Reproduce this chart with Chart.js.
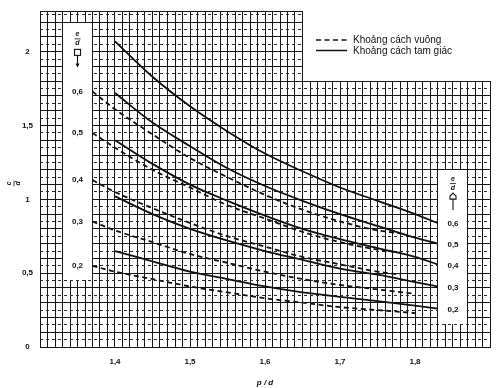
<!DOCTYPE html>
<html><head><meta charset="utf-8">
<script src="https://cdn.jsdelivr.net/npm/chart.js@4.4.1/dist/chart.umd.min.js"></script>
<style>html,body{margin:0;padding:0;background:#fff}#wrap{width:504px;height:388px}</style>
</head><body><div id="wrap"><canvas id="c" width="504" height="388"></canvas></div>
<script>
// ---- data ----
const triX  = [1.40,1.45,1.50,1.55,1.60,1.65,1.70,1.75,1.80,1.83];
const tri06 = [2.07,1.83,1.63,1.46,1.31,1.19,1.08,0.99,0.90,0.84];
const tri05 = [1.72,1.52,1.36,1.21,1.09,0.99,0.90,0.82,0.74,0.70];
const tri04 = [1.40,1.24,1.10,0.99,0.89,0.80,0.73,0.67,0.61,0.56];
const tri03 = [1.02,0.90,0.80,0.72,0.65,0.59,0.53,0.49,0.44,0.41];
const tri02 = [0.65,0.58,0.51,0.46,0.41,0.37,0.34,0.31,0.28,0.26];
const sqX     = [1.37,1.40,1.45,1.50,1.55,1.60,1.65,1.70,1.75,1.78];
const sqXLong = [1.37,1.40,1.45,1.50,1.55,1.60,1.65,1.70,1.75,1.80];
const sq06 = [1.73,1.61,1.44,1.28,1.15,1.03,0.93,0.85,0.79,0.77];
const sq05 = [1.45,1.35,1.20,1.08,0.96,0.87,0.78,0.71,0.66,0.64];
const sq04 = [1.13,1.05,0.94,0.84,0.75,0.68,0.61,0.56,0.51,0.49];
const sq03 = [0.85,0.79,0.71,0.63,0.57,0.51,0.46,0.42,0.39,0.36];
const sq02 = [0.55,0.51,0.46,0.41,0.37,0.33,0.30,0.27,0.25,0.23];
const eLabels = ['0,6','0,5','0,4','0,3','0,2'];
const xTickValues = [1.4,1.5,1.6,1.7,1.8];
const xTickLabels = ['1,4','1,5','1,6','1,7','1,8'];
const yTickValues = [0,0.5,1,1.5,2];
const yTickLabels = ['0','0,5','1','1,5','2'];
const legendLabels = ['Khoảng cách vuông','Khoảng cách tam giác'];
const xTitle = 'p / d';

// ---- helpers ----
const pts = (xs, ys) => xs.map((x, i) => ({x, y: ys[i]}));
const INK = '#111';
const GRID = '#161616';
const FONT = "'Liberation Sans', Arial, sans-serif";
const sqDash = [5, 3.5];

const triSets = [tri06, tri05, tri04, tri03, tri02];
const sqSets = [sq06, sq05, sq04, sq03, sq02];
const sqXs = [sqX, sqX, sqX, sqXLong, sqXLong];

const datasets = [];
sqSets.forEach((ys, i) => datasets.push({
  label: legendLabels[0] + ' ' + eLabels[i], data: pts(sqXs[i], ys),
  borderColor: INK, borderWidth: 1.8, borderDash: sqDash, pointRadius: 0,
  cubicInterpolationMode: 'monotone', fill: false, xAxisID: 'x', yAxisID: 'y'
}));
triSets.forEach((ys, i) => datasets.push({
  label: legendLabels[1] + ' ' + eLabels[i], data: pts(triX, ys),
  borderColor: INK, borderWidth: 1.8, pointRadius: 0,
  cubicInterpolationMode: 'monotone', fill: false, xAxisID: 'x', yAxisID: 'y'
}));

// blank (white) areas of the sheet, in axis units
const masks = [
  {x0: 1.33, x1: 1.37, y0: 0.45, y1: 2.20},
  {x0: 1.83, x1: 1.87, y0: 0.15, y1: 1.20},
  {x0: 1.65, x1: null, y0: 1.80, y1: null}
];

const al = p => Math.round(p - 0.5);

const annot = {
  id: 'annot',
  beforeDatasetsDraw(chart) {
    const {ctx, chartArea: ca, scales: {x, y}} = chart;
    ctx.save();
    ctx.fillStyle = '#fff';
    masks.forEach(m => {
      const l = al(x.getPixelForValue(m.x0)) + 1;
      const r = m.x1 === null ? ca.right + 3 : al(x.getPixelForValue(m.x1));
      const t = m.y1 === null ? ca.top - 3 : al(y.getPixelForValue(m.y1)) + 1;
      const b = al(y.getPixelForValue(m.y0));
      ctx.fillRect(l, t, r - l, b - t);
    });
    ctx.restore();
  },
  afterDatasetsDraw(chart) {
    const {ctx, chartArea: ca, scales: {x, y}} = chart;
    ctx.save();
    ctx.fillStyle = INK; ctx.strokeStyle = INK;
    ctx.textAlign = 'center'; ctx.textBaseline = 'middle';
    // parameter labels in the left box (at square-pitch curve starts)
    ctx.font = 'bold 8px ' + FONT;
    const lx = x.getPixelForValue(1.35);
    sqSets.forEach((ys, i) => ctx.fillText(eLabels[i], lx, y.getPixelForValue(ys[0])));
    // parameter labels in the right box (at triangular-pitch curve ends)
    const rx = x.getPixelForValue(1.85) + 0.5;
    triSets.forEach((ys, i) => ctx.fillText(eLabels[i], rx, y.getPixelForValue(ys[ys.length - 1]) + 1));

    // e/d fractions + pitch symbols
    function frac(cx, cy) {
      ctx.font = 'italic bold 7px ' + FONT;
      ctx.fillText('e', cx, cy - 4);
      ctx.fillText('d', cx, cy + 4.5);
      ctx.lineWidth = 0.8;
      ctx.beginPath(); ctx.moveTo(cx - 3, cy + 0.5); ctx.lineTo(cx + 3, cy + 0.5); ctx.stroke();
    }
    const ly = y.getPixelForValue(2.09);
    frac(lx, ly);
    ctx.lineWidth = 1.1;
    ctx.strokeRect(lx - 3, ly + 11, 6, 6);
    ctx.beginPath(); ctx.moveTo(lx, ly + 17); ctx.lineTo(lx, ly + 28); ctx.stroke();
    ctx.beginPath(); ctx.moveTo(lx - 1.5, ly + 25); ctx.lineTo(lx, ly + 28); ctx.lineTo(lx + 1.5, ly + 25); ctx.stroke();

    const ry = y.getPixelForValue(1.11);
    frac(rx, ry);
    ctx.lineWidth = 1.1;
    ctx.beginPath();
    ctx.moveTo(rx, ry + 10); ctx.lineTo(rx + 3, ry + 13); ctx.lineTo(rx + 3, ry + 16);
    ctx.lineTo(rx - 3, ry + 16); ctx.lineTo(rx - 3, ry + 13); ctx.closePath(); ctx.stroke();
    ctx.beginPath(); ctx.moveTo(rx, ry + 16); ctx.lineTo(rx, ry + 27); ctx.stroke();

    // y-axis quantity c/d as a fraction, turned a quarter turn
    ctx.save();
    ctx.translate(14, (ca.top + ca.bottom) / 2 + 4);
    ctx.rotate(-Math.PI / 2);
    ctx.font = 'italic bold 7px ' + FONT;
    ctx.fillText('c', 0, -4.5);
    ctx.fillText('d', 0, 4.5);
    ctx.lineWidth = 0.8;
    ctx.beginPath(); ctx.moveTo(-3, 0); ctx.lineTo(3, 0); ctx.stroke();
    ctx.restore();

    // legend
    const gx0 = 316, gx1 = 347, tx = 353;
    const rows = [40, 50.5];
    ctx.lineWidth = 1.5;
    ctx.setLineDash(sqDash);
    ctx.beginPath(); ctx.moveTo(gx0, rows[0]); ctx.lineTo(gx1, rows[0]); ctx.stroke();
    ctx.setLineDash([]);
    ctx.beginPath(); ctx.moveTo(gx0, rows[1]); ctx.lineTo(gx1, rows[1]); ctx.stroke();
    ctx.font = '10px ' + FONT;
    ctx.textAlign = 'left';
    ctx.fillText(legendLabels[0], tx, rows[0]);
    ctx.fillText(legendLabels[1], tx, rows[1] + 1);
    ctx.restore();
  }
};

const xCommon = {type: 'linear', min: 1.3, max: 1.9};
const yCommon = {type: 'linear', min: 0, max: 2.27};
const xGridTicks = s => { const t = []; for (let k = 130; k <= 190; k++) t.push({value: k / 100}); s.ticks = t; };
const yGridTicks = s => { const t = []; for (let k = 0; k <= 22; k++) t.push({value: k / 10}); t.push({value: 2.27}); s.ticks = t; };
const yMinorTicks = s => { const t = []; for (let k = 0; k < 23; k++) t.push({value: k / 10 + 0.05}); s.ticks = t; };

new Chart(document.getElementById('c'), {
  type: 'line',
  data: {datasets},
  options: {
    responsive: false, animation: false, devicePixelRatio: 1,
    layout: {padding: {top: 6, right: 14, left: 0, bottom: 0}},
    plugins: {legend: {display: false}, tooltip: {enabled: false}},
    scales: {
      x: {...xCommon, position: 'bottom', weight: 0, afterBuildTicks: xGridTicks,
          ticks: {display: false, autoSkip: false},
          grid: {color: GRID, lineWidth: 1, drawTicks: false},
          border: {display: true, color: GRID, width: 1},
          afterFit: s => { s.height = 0; }},
      xl: {...xCommon, position: 'bottom', weight: 1,
           afterBuildTicks: s => { s.ticks = xTickValues.map(v => ({value: v})); },
           ticks: {callback: (v, i) => xTickLabels[i], autoSkip: false, maxRotation: 0, padding: 10,
                   color: INK, font: {family: FONT, size: 8, weight: 'bold'}},
           grid: {display: false, drawTicks: false}, border: {display: false},
           title: {display: true, text: xTitle, color: INK, padding: {top: 8, bottom: 0},
                   font: {family: FONT, size: 8, style: 'italic', weight: 'bold'}},
           afterFit: s => { s.height = 41; }},
      y: {...yCommon, position: 'left', weight: 0, afterBuildTicks: yGridTicks,
          ticks: {display: false, autoSkip: false},
          grid: {color: GRID, lineWidth: 1, drawTicks: false},
          border: {display: true, color: GRID, width: 1},
          afterFit: s => { s.width = 0; }},
      y2: {...yCommon, position: 'left', weight: 0, afterBuildTicks: yMinorTicks,
           ticks: {display: false, autoSkip: false},
           grid: {color: '#2e2e2e', lineWidth: 1, drawTicks: false},
           border: {display: false, dash: [3, 3]},
           afterFit: s => { s.width = 0; }},
      yl: {...yCommon, position: 'left', weight: 1,
           afterBuildTicks: s => { s.ticks = yTickValues.map(v => ({value: v})); },
           ticks: {callback: (v, i) => yTickLabels[i], autoSkip: false, crossAlign: 'center', padding: 7,
                   color: INK, font: {family: FONT, size: 8, weight: 'bold'}},
           grid: {display: false, drawTicks: false}, border: {display: false},
           afterFit: s => { s.width = 40; }}
    }
  },
  plugins: [annot]
});
</script>
</body></html>
